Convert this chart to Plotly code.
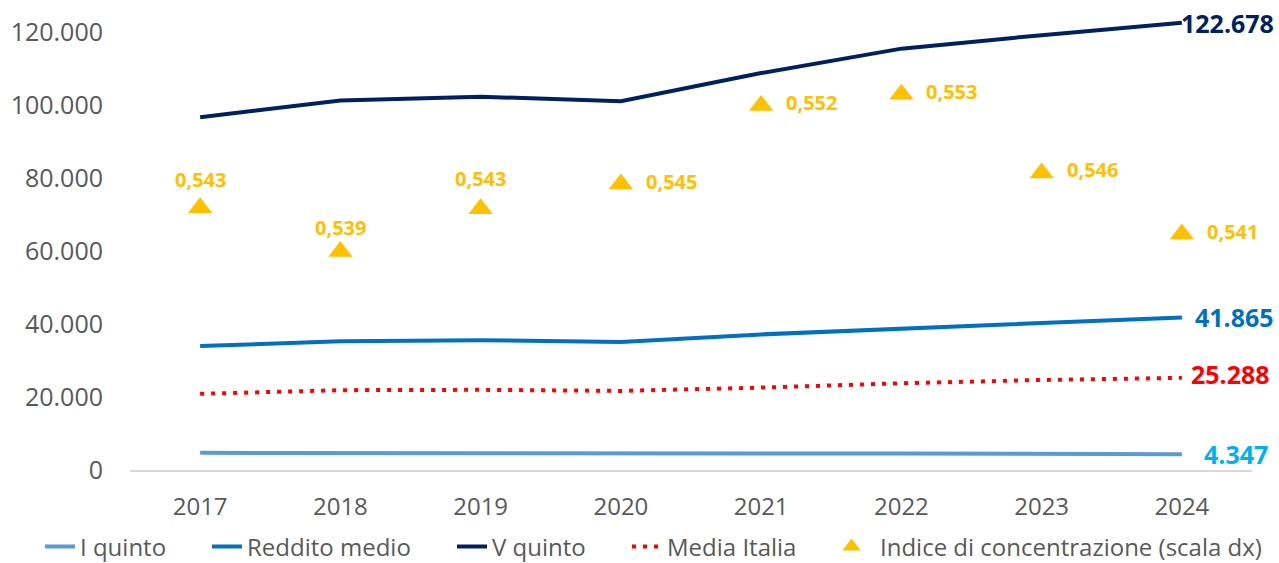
import plotly.graph_objects as go

years = ["2017", "2018", "2019", "2020", "2021", "2022", "2023", "2024"]
i_quinto = [4700, 4720, 4650, 4600, 4520, 4500, 4430, 4347]
reddito_medio = [34000, 35300, 35600, 35100, 37200, 38700, 40300, 41865]
v_quinto = [96800, 101400, 102400, 101200, 108900, 115600, 119300, 122678]
media_italia = [20900, 21900, 22000, 21700, 22600, 23800, 24700, 25288]
indice = [0.5429, 0.5390, 0.5428, 0.5450, 0.5520, 0.5530, 0.5460, 0.54055]

FONT = "Open Sans"
GREY = "#595959"
W, H = 1279, 563
x = list(range(len(years)))

fig = go.Figure()
fig.add_trace(go.Scatter(x=x, y=i_quinto, name="I quinto", mode="lines", legend="legend",
                         line=dict(color="#5B9BD5", width=4)))
fig.add_trace(go.Scatter(x=x, y=reddito_medio, name="Reddito medio", mode="lines", legend="legend2",
                         line=dict(color="#0070C0", width=4)))
fig.add_trace(go.Scatter(x=x, y=v_quinto, name="V quinto", mode="lines", legend="legend3",
                         line=dict(color="#002060", width=4)))
fig.add_trace(go.Scatter(x=x, y=media_italia, name="Media Italia", mode="lines", legend="legend4",
                         line=dict(color="#FF0000", width=4, dash="4px,7px")))
fig.add_trace(go.Scatter(x=x, y=indice, name="Indice di concentrazione (scala dx)",
                         mode="markers", yaxis="y2", legend="legend5",
                         marker=dict(symbol="triangle-up", size=21, color="#FFC000")))

# end labels
end_specs = [
    (v_quinto, "#002060", -3, 0),
    (reddito_medio, "#0070C0", 11, 0),
    (media_italia, "#FF0000", 7, 4),
    (i_quinto, "#00B0F0", 20, 0),
]
for series, col, xs, ys in end_specs:
    v = series[-1]
    fig.add_annotation(x=x[-1], y=v, xref="x", yref="y",
                       text=f"{v:,.0f}".replace(",", "."), showarrow=False,
                       xanchor="left", yanchor="middle", xshift=xs, yshift=ys,
                       font=dict(family=FONT, size=25, color=col, weight="bold"))

# index labels
label_pos = ["above", "above", "above", "right", "right", "right", "right", "right"]
above_shift = [28, 24, 30, 0, 0, 0, 0, 0]
for i, v in enumerate(indice):
    txt = f"{v:.3f}".replace(".", ",")
    if label_pos[i] == "above":
        fig.add_annotation(x=x[i], y=v, xref="x", yref="y2", text=txt, showarrow=False,
                           xanchor="center", yanchor="middle", yshift=above_shift[i],
                           font=dict(family=FONT, size=20, color="#FFC000", weight="bold"))
    else:
        fig.add_annotation(x=x[i], y=v, xref="x", yref="y2", text=txt, showarrow=False,
                           xanchor="left", yanchor="middle", xshift=23, yshift=3,
                           font=dict(family=FONT, size=20, color="#FFC000", weight="bold"))


def leg(px_left, itemwidth=30):
    return dict(orientation="h", xref="container", yref="container",
                x=px_left / W, xanchor="left", y=16 / H, yanchor="middle",
                font=dict(family=FONT, size=24, color=GREY),
                itemwidth=itemwidth, bgcolor="rgba(0,0,0,0)")


fig.update_layout(
    width=W, height=H,
    margin=dict(l=130, r=27, t=10, b=93, autoexpand=False),
    paper_bgcolor="white", plot_bgcolor="white",
    separators=",.",
    font=dict(family=FONT, size=24, color=GREY),
    showlegend=True,
    legend=leg(40),
    legend2=leg(207),
    legend3=leg(452),
    legend4=leg(627),
    legend5=leg(823, 47),
    xaxis=dict(range=[-0.5, 7.5], tickvals=x, ticktext=years,
               showgrid=False, zeroline=False, showline=True,
               linecolor="#D9D9D9", linewidth=1.5, ticks="",
               ticklabelstandoff=14,
               tickfont=dict(family=FONT, size=24, color=GREY)),
    yaxis=dict(range=[0, 126200], tickvals=[0, 20000, 40000, 60000, 80000, 100000, 120000],
               tickformat=",.0f", showgrid=False, zeroline=False, showline=False,
               ticks="", ticklabelstandoff=26,
               tickfont=dict(family=FONT, size=25, color=GREY)),
    yaxis2=dict(range=[0.519557, 0.560496], overlaying="y", side="right",
                showgrid=False, zeroline=False, showline=False,
                showticklabels=False, ticks=""),
)

fig.write_html("out.html")
